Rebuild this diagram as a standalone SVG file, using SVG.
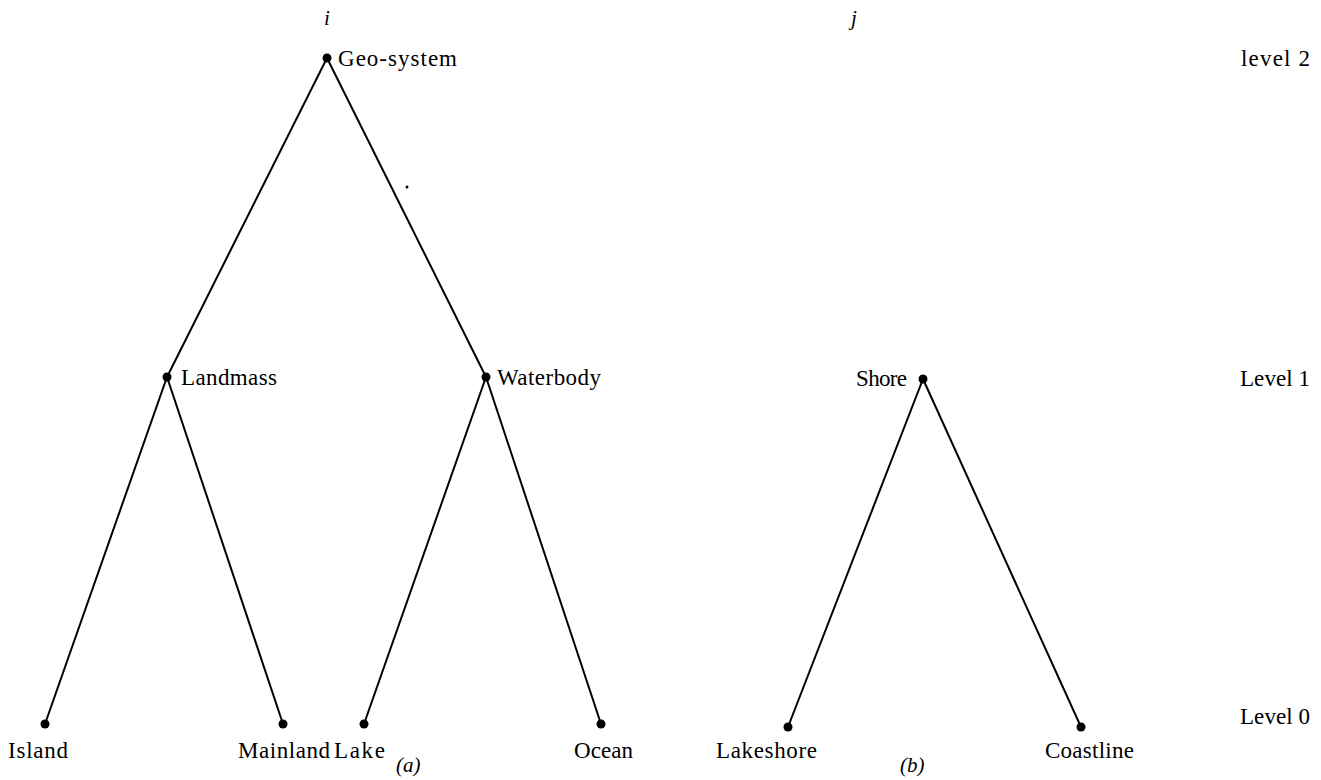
<svg xmlns="http://www.w3.org/2000/svg" width="1321" height="780" viewBox="0 0 1321 780">
<style>
.t{font-family:"Liberation Serif","Times New Roman",serif;font-size:23px;fill:#000}
.it{font-family:"Liberation Serif","Times New Roman",serif;font-size:21px;font-style:italic;fill:#000}
.e{stroke:#000;stroke-width:2;fill:none}
.d{fill:#000}
</style>
<rect width="1321" height="780" fill="#fff"/>
<g id="connectors">
<line class="e" x1="327" y1="58" x2="167" y2="377"/>
<line class="e" x1="327" y1="58" x2="486" y2="377"/>
<line class="e" x1="167" y1="377" x2="45" y2="724"/>
<line class="e" x1="167" y1="377" x2="283" y2="724"/>
<line class="e" x1="486" y1="377" x2="364" y2="724"/>
<line class="e" x1="486" y1="377" x2="601" y2="724"/>
<line class="e" x1="923" y1="379" x2="788" y2="727"/>
<line class="e" x1="923" y1="379" x2="1081" y2="727"/>
</g>
<g id="geo-system"><circle class="d" cx="327" cy="58" r="4.5"/><text class="t" x="338" y="66" textLength="119" lengthAdjust="spacing">Geo-system</text></g>
<g id="landmass"><circle class="d" cx="167" cy="377" r="4.5"/><text class="t" x="181" y="385" textLength="96" lengthAdjust="spacing">Landmass</text></g>
<g id="waterbody"><circle class="d" cx="486" cy="377" r="4.5"/><text class="t" x="497" y="385" textLength="104" lengthAdjust="spacing">Waterbody</text></g>
<g id="island"><circle class="d" cx="45" cy="724" r="4.5"/><text class="t" x="8" y="758" textLength="60" lengthAdjust="spacing">Island</text></g>
<g id="mainland"><circle class="d" cx="283" cy="724" r="4.5"/><text class="t" x="238" y="758" textLength="92" lengthAdjust="spacing">Mainland</text></g>
<g id="lake"><circle class="d" cx="364" cy="724" r="4.5"/><text class="t" x="334" y="758" textLength="51" lengthAdjust="spacing">Lake</text></g>
<g id="ocean"><circle class="d" cx="601" cy="724" r="4.5"/><text class="t" x="574" y="758" textLength="59" lengthAdjust="spacing">Ocean</text></g>
<g id="shore"><circle class="d" cx="923" cy="379" r="4.5"/><text class="t" x="856" y="386" textLength="51" lengthAdjust="spacing">Shore</text></g>
<g id="lakeshore"><circle class="d" cx="788" cy="727" r="4.5"/><text class="t" x="716" y="758" textLength="101" lengthAdjust="spacing">Lakeshore</text></g>
<g id="coastline"><circle class="d" cx="1081" cy="727" r="4.5"/><text class="t" x="1045" y="758" textLength="89" lengthAdjust="spacing">Coastline</text></g>
<g id="labels">
<text class="it" x="324" y="25">i</text>
<text class="it" x="851" y="25">j</text>
<text class="t" x="1241" y="66" textLength="69" lengthAdjust="spacing">level 2</text>
<text class="t" x="1240" y="386" textLength="70" lengthAdjust="spacing">Level 1</text>
<text class="t" x="1240" y="724" textLength="70" lengthAdjust="spacing">Level 0</text>
<text class="it" x="396" y="772">(a)</text>
<text class="it" x="900" y="772">(b)</text>
<circle class="d" cx="407" cy="187" r="1.5"/>
</g>
</svg>
